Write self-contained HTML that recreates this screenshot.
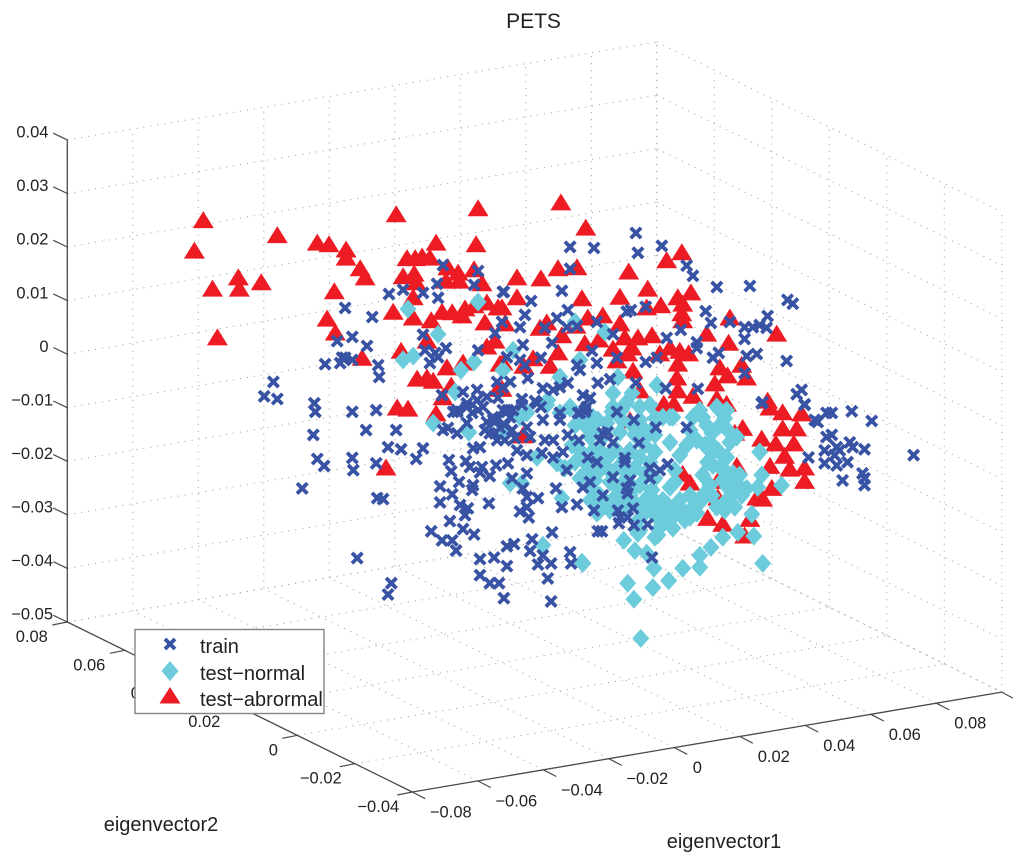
<!DOCTYPE html>
<html lang="en">
<head>
<meta charset="utf-8">
<title>PETS</title>
<style>
html,body{margin:0;padding:0;background:#fff;}
svg{display:block;}
text{font-family:"Liberation Sans",sans-serif;fill:#231f20;}
</style>
</head>
<body>
<svg id="chart" xmlns="http://www.w3.org/2000/svg" width="1024" height="865" viewBox="0 0 1024 865">
  <g id="grid"></g>
  <g id="axes"></g>
  <g id="abnormal"></g>
  <g id="normal"></g>
  <g id="train"></g>
  <text x="533.5" y="28" font-size="21" text-anchor="middle">PETS</text>
  <text x="161" y="831" font-size="20" text-anchor="middle">eigenvector2</text>
  <text x="724" y="848" font-size="20" text-anchor="middle">eigenvector1</text>
  <g>
    <rect x="135" y="629.5" width="189" height="84" fill="#fff" stroke="#808285" stroke-width="1.4"/>
    <g>
      <path d="M165 639L175 649M175 639L165 649" stroke="#3953a4" stroke-width="3.8" fill="none"/>
      <text x="200" y="653" font-size="20">train</text>
    </g>
    <g>
      <polygon points="170,661 178.5,671 170,681 161.5,671" fill="#6cccdc"/>
      <text x="200" y="680" font-size="20">test−normal</text>
    </g>
    <g>
      <polygon points="170,687 180.5,703.5 159.5,703.5" fill="#ed1c24"/>
      <text x="200" y="706" font-size="20">test−abrormal</text>
    </g>
  </g>
</svg>
<script>
// Axis ticks
const ev1Ticks = [-0.08,-0.06,-0.04,-0.02,0,0.02,0.04,0.06,0.08];
const ev1TickLabels = ["−0.08","−0.06","−0.04","−0.02","0","0.02","0.04","0.06","0.08"];
const ev2Ticks = [-0.04,-0.02,0,0.02,0.04,0.06,0.08];
const ev2TickLabels = ["−0.04","−0.02","0","0.02","0.04","0.06","0.08"];
const ev3Ticks = [-0.05,-0.04,-0.03,-0.02,-0.01,0,0.01,0.02,0.03,0.04];
const ev3TickLabels = ["−0.05","−0.04","−0.03","−0.02","−0.01","0","0.01","0.02","0.03","0.04"];

// Marks read from the single published view, as [horizontal, height] in units of 0.001.
// Depth cannot be recovered from one view, so each value is a view-plane reading
// on the eigenvector1 scale (horizontal) and the eigenvector3 scale (height).
const abnormalValues = [[-90.6,25.1],[-93.3,19.4],[-68,22.3],[-87.8,12.3],[-79.9,14.4],[-79.6,12.3],[-72.9,13.5],[-86.3,3.2],[-55.8,20.9],[-52.2,20.6],[-47,19.6],[-47,18.1],[-42.7,16.1],[-41.2,14.4],[-50.6,11.8],[-52.8,6.7],[-50.3,4.1],[-42.1,-0.6],[-31.7,26.2],[-6.7,27.3],[-19.5,20.9],[-7.3,20.6],[-28.4,18],[-25.9,18],[-23.8,18.3],[-21.4,18.1],[-29.6,14.6],[-26.2,15.1],[-25.6,13.5],[-15.9,16.3],[-12.8,15.3],[-16.5,13.8],[-12.5,13.8],[-7.9,15.9],[-5.5,13.3],[-26.5,10.7],[-32.6,8],[-26.5,6.9],[-21,6.4],[-17.7,8],[-14.6,7.9],[-11.6,7.3],[-10.7,8.6],[-7.9,9.2],[-4,9.7],[-0.6,8.8],[-4.6,6],[-22.3,2.6],[-1.5,2.6],[-4,1.5],[-30.2,0.7],[-11.3,-1.5],[-16.2,-2.4],[-25.3,-4.5],[-22.3,-4.3],[-20.4,-4.9],[-14.9,-5.8],[0,-1.7],[-0.6,-6.4],[-17.4,-8],[-31.4,-9.9],[-28.1,-10.1],[-19.5,-11],[-34.8,-21.1],[7,-15.1],
[18.6,28.4],[26.2,23.7],[5.2,14.4],[12.5,14.2],[17.7,16.1],[23.5,16.3],[5.2,10.7],[25,10.5],[36.6,10.8],[39.3,15.5],[50.9,17.6],[55.5,19.1],[45.1,12.3],[49.1,9.2],[44.8,8.8],[54.3,10.7],[58.3,11.6],[55.8,9.5],[55.5,7.7],[55.8,6.4],[70.2,6.9],[84.5,3.9],[63.1,3.9],[69.8,2.2],[73.8,-1.9],[75.3,-4.3],[67.1,-2.4],[69.5,-3.9],[65.6,-5.4],[66.2,-8.2],[69.2,-9.2],[58.9,-7.7],[81.7,-8.6],[82.4,-9.9],[86.3,-10.8],[92.1,-11],[50,-9.2],[53.1,-9.2],[54.3,-6.7],[54,-4.3],[54.3,-1.7],[51.9,1.3],[48.8,0.2],[54.9,0.7],[57.6,0.2],[40.6,-3],[46.4,3.6],[42.1,3.2],[40.3,1.3],[36.6,5.8],[38.1,3.2],[34.5,1.1],[39,0.2],[35.7,-1.1],[31.4,7.3],[26.8,6.9],[30.2,2.8],[25.9,2.1],[18.9,3.6],[17.7,0.4],[15.3,-2.1],[10.1,-0.7],[7.3,-2.1],[12.2,5],[14.3,6],[23.2,5.4],[1.5,5.8],[0.6,8.8],[0.9,-1.5],[0.6,-6.4],[42.7,-6.7],
[74.1,-13.7],[86.3,-13.8],[90.6,-13.8],[79.9,-15.7],[84.2,-16.6],[89.7,-16.6],[86.9,-18.9],[82.4,-20.8],[88.5,-21.3],[93,-21.1],[93,-23.6],[83,-24.9],[78.4,-26.7],[80.2,-26.9],[55.8,-22.3],[58,-23.9],[66.5,-23.6],[72.3,-20.8],[71.7,-14.6],[63.4,-30.5],[68,-31.6],[76.3,-30.7],[74.7,-33.8],[39.7,-12.3],[66.5,-26.7]];

const normalValues = [[43,-53.1],[40.9,-45.8],[39,-42.8],[46.7,-43.6],[51.5,-42.3],[55.8,-40],[61,-39.8],[61,-37.6],[47,-40],[80.2,-39.1],[25.3,-39.1],[64.4,-36.1],[68,-34.2],[72.6,-33.3],[77.5,-34],[76.9,-29.9],[37.8,-34.8],[41.2,-36.7],[44.8,-37.2],[48.2,-33.8],[42.1,-33.5],[24.4,-1.1],[22.9,6],[32,4.1],[36,-4.3],[34.5,-7.3],[40.3,-7.3],[47.9,-5.8],[37.2,-10.5],[42.7,-9.9],[61,-10.5],[66.2,-9.9],[69.2,-10.5],[51.9,-11.8],[18.3,-4.3],[14.6,-8.6],[21.4,-9.9],[6.1,-11.8],[4,0.7],[-29.6,-1.1],[-26.5,-0.4],[-28.1,8.4],[-18.9,3.7],[-6.7,9.7],[-7.9,-1.5],[-11.9,-3],[0.9,-3],[-13.7,-7.1],[-20.4,-12.9],[-9.5,-14.6],[3.1,-24.1],[6.7,-24.1],[18.9,-26.9],[13.1,-35.7],[25,-38.9],[29.6,-29.7],[8.2,-11],[14.3,-9.5],[21.4,-10.1],[18.3,-11],[25,-12.3],[28.4,-11.8],[28.4,-14.2],[24.4,-18],[26.8,-21.7],[28.4,-18],[17.4,-20.4],[19.8,-21.3],[0.9,-14.2],[11.3,-19.3],[28.4,-25.4],
[25.9,-13.3],[29.9,-12.3],[34.2,-10.8],[38.1,-9.5],[45.8,-9.5],[42.7,-12.3],[47.3,-12],[32,-15.1],[36.6,-14.6],[41.2,-15.1],[30.5,-18],[35.1,-17.6],[39.7,-18],[44.2,-17],[49.7,-11.8],[52.8,-11.8],[27.5,-20.8],[32,-20.8],[36.6,-20.8],[41.2,-21.3],[45.8,-20.2],[29,-23.6],[33.6,-23.9],[38.1,-23.6],[42.7,-24.5],[47.3,-23.2],[30.5,-26.4],[35.1,-26.7],[39.7,-26.4],[44.2,-27.3],[33.6,-29.2],[38.1,-29.2],[30.5,-29.2],[51.9,-16.5],[57,-17],[54.9,-18.9],[53.4,-23.9],[46.4,-25.4],[43.6,-27.9],[49.7,-27.3],[53.4,-29.7],[51.9,-31],[58,-29.2],[60.1,-29.7],[47.9,-27.9],[54.9,-27.3],[48.8,-32.4],[47.3,-34.2],[42.7,-32.9],[58.9,-11.8],[61.9,-11.8],[67.1,-10.5],[64.7,-14.8],[64.1,-16.5],[64.7,-18.5],[65,-20.8],[61.9,-22.6],[62.5,-26],[61.6,-27.3],[66.2,-28.6],[69.2,-27.3],[71.7,-28.6],[68,-23.6],[72.3,-24.1],[75.3,-25.1],[71.1,-26],[71.1,-22.3],[70.2,-16.5],[72.3,-15.5],[69.2,-19.3],[66.5,-18],[67.1,-21.1],[79.3,-18.3],[79.9,-22.6],[78.7,-24.9],[86,-24.5],
[22.9,-13.3],[27.5,-15.5],[22,-17],[25.3,-19.8],[22.9,-20.2],[29.9,-22.1],[24.4,-23.2],[27.5,-27.3],[29.6,-27.9],[32.6,-12.9],[37.2,-12.3],[40.3,-13.3],[44.2,-14.2],[47.3,-15.1],[33.6,-18.9],[38.1,-19.4],[42.7,-19.4],[47.3,-18.3],[30.5,-19.4],[34.2,-22.3],[39,-22.3],[44.2,-22.3],[36,-25.1],[40.9,-25.1],[32.6,-27.9],[37.2,-27.9],[41.8,-28.2],[42.7,-30.7],[47.3,-30.1],[50.3,-29.2],[56.4,-31],[52.8,-32.5],[49.4,-30.1],[44.8,-29.2],[58,-30.5],[51.9,-24.9],[58,-26.4],[59.5,-28.2],[51.2,-28.2],[55.8,-29.2],[63.1,-13.3],[62.5,-17],[63.4,-20.2],[64.1,-24.5],[64.7,-26.4],[68.6,-21.7],[73.2,-22.6],[69.5,-24.9],[73.8,-26.4],[68.6,-29.2],[67.1,-13.3],[69.5,-14.2],[68.6,-12],[45.8,-14.6],[53.4,-21.7],[58,-14.2],[60.1,-16.1],[38.7,-9],[34.5,-9.9]];

const trainValues = [[-47.3,8.6],[-39,6.9],[-45.1,3.2],[-49.7,2.4],[-40.6,1.5],[-53.4,-1.9],[-48.2,-0.7],[-47.3,-0.7],[-48.8,-1.7],[-45.1,-1.1],[-37.2,-2.1],[-36.9,-4.3],[-69.2,-5.2],[-72,-7.9],[-68,-8.4],[-56.7,-9.2],[-56.4,-10.8],[-45.1,-10.8],[-37.8,-10.5],[-33.9,11.2],[-29.6,12],[-23.5,11.4],[-19.2,13.1],[-18.9,10.5],[-7.9,12.9],[-6.7,15.5],[-17.4,16.6],[0.9,11.6],[0.6,6],[-1.5,3.9],[-23.5,3.6],[-22.9,0.7],[-19.8,0.2],[-16.5,1.1],[-21.4,-1.7],[-18.9,-0.6],[-6.7,0.7],[-17.7,-7.7],[-11.3,-7.1],[-7,-6.7],[-13.1,-10.5],[-10.1,-9.2],[-7,-8.6],[-4,-8],[-5.2,-9.9],[-0.6,-8.2],[0.9,-10.5],[-0.9,-5.2],[0.9,-6.2],[-8.5,-11],[-14.3,-10.8],[-2.1,-11.8],
[-57,-15.1],[-40.9,-14.2],[-31.7,-14.2],[-34.2,-17.4],[-30.2,-17.8],[-23.5,-17.6],[-25.6,-19.6],[-55.8,-19.6],[-53.7,-20.9],[-45.1,-19.4],[-44.8,-21.7],[-37.8,-20.4],[-60.4,-25.1],[-37.5,-26.9],[-35.7,-27.1],[-43.6,-38.1],[-33.2,-42.8],[-34.2,-44.9],[-15.6,-19.8],[-14.9,-21.9],[-10.4,-20],[-9.2,-21.1],[-5.5,-21.1],[-6.1,-22.1],[-3.1,-22.8],[-1.2,-20.8],[2.4,-20.4],[8.2,-22.3],[3.7,-23.2],[-12.5,-23.9],[-18.3,-24.7],[-8.2,-24.5],[-8.5,-25.4],[-14.6,-26.2],[-18.3,-27.7],[-3.4,-27.9],[-12.2,-28.2],[-9.8,-28.8],[-10.7,-30.1],[-15.3,-31.2],[-11.3,-32.7],[-21,-33.1],[-17.7,-34.8],[-14.6,-34.8],[-13.4,-36.7],[-7.9,-33.7],[-6.1,-38.3],[-1.8,-38],[-6.1,-41.3],[2.1,-39.6],[-3.1,-42.8],[-0.3,-42.8],[1.2,-45.6],[2.1,-35.9],[4.3,-35.5],[9.8,-34.6],[9.2,-36.8],[15.9,-33.3],[13.1,-37.6],[11.6,-39.3],[15.6,-39.1],[14.6,-41.9],[15.6,-46.2],[21.4,-37],[21.7,-39.1],[7,-25.1],[8.2,-26.7],[11.6,-26.9],[6.1,-29.4],[8.8,-30.5],[8.2,-28.6],[17.1,-25.1],[18.9,-28.6],[23.5,-28.1],[28.7,-29.2],[25.3,-24.9],[27.5,-23.9],[29.9,-33.1],[20.4,-21.7],
[-15.9,-13.8],[-13.1,-14.8],[-17.4,-14.2],[-13.1,-10.8],[-10.1,-12.9],[-8.2,-17.6],[-6.1,-17.4],[-10.1,-9.9],[-6.7,-10.5],[-2.1,-12.3],[-3.1,-14.8],[-0.9,-16.1],[1.5,-16.1],[2.4,-10.5],[3.1,-11.8],[6.7,-9.5],[11.3,-9.2],[8.2,-13.7],[9.2,-15.5],[5.2,-18],[8.2,-18.9],[13.1,-12.3],[13.7,-16.1],[16.2,-16.1],[12.8,-18.5],[16.2,-19.3],[19.2,-18.3],[18.3,-12.3],[24.4,-11],[20.7,-15.1],[24.1,-16.1],[26.5,-9.9],[26.8,-19.3],[29.6,-20.2],[-0.9,-12.3],[0,-13.8],[1.5,-13.3],[3.7,-14.2],[-4.6,-14.2],[-4,-12.7],[4.6,-15.7],[-1.5,-14.8],
[41.5,22.6],[42.1,18.9],[49.4,20.2],[57,16.5],[58.9,14.6],[66.2,12.5],[76.3,12.7],[87.8,10.1],[89.4,9.4],[21.4,20],[28.7,19.8],[21.4,15.9],[18.9,11.8],[9.5,9.9],[1.2,11.6],[20.7,8.2],[17.4,6.7],[13.7,4.9],[7.6,7.3],[6.1,5],[23.5,5.2],[20.4,5],[38.7,7.9],[40,8.2],[44.5,8.8],[34.5,3.7],[29.6,6],[15.9,2.1],[7,1.7],[2.1,-0.6],[6.1,-1.1],[7.6,-2.1],[12.5,-0.7],[23.5,-2.1],[24.4,-3],[29.6,-1.7],[28.1,0.6],[35.7,-0.7],[44.5,-1.5],[47.9,-0.7],[50.9,3],[55.2,4.5],[60.1,2.2],[60.1,1.1],[62.8,8],[64.4,5.8],[70.2,6],[74.7,5],[74.7,2.8],[77.2,5],[79.3,5.4],[81.7,7.1],[81.4,4.9],[66.8,0.2],[65,-0.7],[75.3,-0.4],[78.4,0],[87.5,-1.3],[74.7,-3.6],[92.1,-6.7],[90.6,-7.5],[93,-9.5],[80.2,-9],[50.6,-6.4],[41.5,-5.4],[60.4,-6.5],[29.9,-5.4],[33.6,-4.7],[20.7,-5.4],[18.3,-6.2],[16.2,-6.7],[13.1,-6.4],[8.5,-4.5],[3.1,-5.2],[6.7,-8.4],[10.7,-8.8],[12.5,-9.9],[25.3,-7.7],[27.5,-8.2],[25.9,-10.5],[23.8,-11],[35.7,-10.8],[18.3,-11],[2.1,-10.8],[4,-10.5],[99.7,-11],[96.1,-12.3],
[79.9,-9.2],[93,-9.4],[101.3,-11],[107.4,-10.7],[113.5,-12.5],[97,-12.7],[101.3,-15.1],[99.7,-15.5],[106.8,-16.5],[107.7,-17.4],[111.3,-17.8],[99.1,-18],[102.8,-17.4],[102.2,-18.9],[103.7,-18],[94.2,-19.3],[99.1,-20.4],[102.8,-20.8],[106.1,-20.2],[110.7,-22.3],[111.3,-23.2],[111.3,-24.5],[104.6,-23.6],[126.3,-18.9],[25.9,-10.8],[40.9,-12.3],[47.6,-13.7],[57,-13.7],[31.4,-14.8],[32.9,-14.6],[30.5,-16.1],[34.5,-16.5],[42.4,-16.6],[38.1,-19.4],[38.1,-20.2],[51.2,-20.6],[48.8,-21.7],[45.8,-21.3],[45.8,-23.2],[34.5,-23],[39.7,-23.6],[38.7,-25.1],[39,-26],[31.4,-26.4],[36,-29.2],[40.6,-28.8],[36.6,-30.5],[39,-30.5],[36.3,-31.6],[40.9,-32],[45.1,-31.8],[31.1,-33.1],[46.4,-38]];

const SVGNS = "http://www.w3.org/2000/svg";
const ev1Min = -0.08, ev1Max = 0.10, ev2Min = -0.04, ev2Max = 0.08, ev3Min = -0.05, ev3Max = 0.04;

// Axis functions: box projection for the frame, view-plane scales for the marks.
function projectX(v1, v2) { return 412.3 + 3275 * (v1 - ev1Min) - 2875 * (v2 - ev2Min); }
function projectY(v1, v2, v3) {
  const floorY = 792 - 555 * (v1 - ev1Min) - 1417 * (v2 - ev2Min);
  const perspective = 1 - 0.004 * (v1 - ev1Min) / (ev1Max - ev1Min);
  return floorY - 5356 * (v3 - ev3Min) * perspective;
}
function markX(h) { return 500 + 3.275 * h; }
function markY(z) { return 354 - 5.356 * z; }

function addLine(parent, x1, y1, x2, y2, stroke, width, dash) {
  const el = document.createElementNS(SVGNS, "line");
  el.setAttribute("x1", x1.toFixed(1));
  el.setAttribute("y1", y1.toFixed(1));
  el.setAttribute("x2", x2.toFixed(1));
  el.setAttribute("y2", y2.toFixed(1));
  el.setAttribute("stroke", stroke);
  el.setAttribute("stroke-width", width);
  if (dash) el.setAttribute("stroke-dasharray", dash);
  parent.appendChild(el);
  return el;
}
function addGrid(a, b, c, d, e, f) {
  const el = addLine(document.getElementById("grid"), projectX(a, b), projectY(a, b, c), projectX(d, e), projectY(d, e, f), "#aeaeae", 1.1, "1.2 5.8");
  
  
}
function addTick(x1, y1, x2, y2) {
  const el = addLine(document.getElementById("axes"), x1, y1, x2, y2, "#4a4a4a", 1.2);
  
  
}
function addTickLabel(str, x, y, anchor) {
  const el = document.createElementNS(SVGNS, "text");
  el.setAttribute("x", x.toFixed(1));
  el.setAttribute("y", y.toFixed(1));
  el.setAttribute("font-size", "16.5");
  el.setAttribute("text-anchor", anchor);
  
  
  el.textContent = str;
  document.getElementById("axes").appendChild(el);
}

// Grid lines: floor, back-left wall, right wall
const ev1GridStops = ev1Ticks.concat([ev1Max]);
ev1GridStops.forEach(function (v) {
  addGrid(v, ev2Min, ev3Min, v, ev2Max, ev3Min);
  addGrid(v, ev2Max, ev3Min, v, ev2Max, ev3Max);
});
ev2Ticks.forEach(function (v) {
  addGrid(ev1Min, v, ev3Min, ev1Max, v, ev3Min);
  addGrid(ev1Max, v, ev3Min, ev1Max, v, ev3Max);
});
ev3Ticks.forEach(function (v) {
  addGrid(ev1Min, ev2Max, v, ev1Max, ev2Max, v);
  addGrid(ev1Max, ev2Max, v, ev1Max, ev2Min, v);
});

// Axis lines
const axesGroup = document.getElementById("axes");
const axisZ = addLine(axesGroup, projectX(ev1Min, ev2Max), projectY(ev1Min, ev2Max, ev3Max), projectX(ev1Min, ev2Max), projectY(ev1Min, ev2Max, ev3Min), "#4a4a4a", 1.3);


const axisY = addLine(axesGroup, projectX(ev1Min, ev2Max), projectY(ev1Min, ev2Max, ev3Min), projectX(ev1Min, ev2Min), projectY(ev1Min, ev2Min, ev3Min), "#4a4a4a", 1.3);


const axisX = addLine(axesGroup, projectX(ev1Min, ev2Min), projectY(ev1Min, ev2Min, ev3Min), projectX(ev1Max, ev2Min), projectY(ev1Max, ev2Min, ev3Min), "#4a4a4a", 1.3);



// Ticks and labels
ev3Ticks.forEach(function (v, i) {
  const x = projectX(ev1Min, ev2Max), y = projectY(ev1Min, ev2Max, v);
  addTick(x, y, x - 14, y - 6.7);
  addTickLabel(ev3TickLabels[i], v < 0 ? 53 : 48.5, y - 2.3, "end");
});
ev2Ticks.forEach(function (v, i) {
  const x = projectX(ev1Min, v), y = projectY(ev1Min, v, ev3Min);
  addTick(x, y, x - 15, y + 3);
  const dx = ev2TickLabels[i] === "0" ? -24 : (v < 0 ? -34 : -35.5);
  addTickLabel(ev2TickLabels[i], x + dx, y + 20, "middle");
});
ev1Ticks.forEach(function (v, i) {
  const x = projectX(v, ev2Min), y = projectY(v, ev2Min, ev3Min);
  addTick(x, y, x + 13, y + 6.7);
  const dx = ev1TickLabels[i] === "0" ? 23 : (v < 0 ? 38.5 : 34);
  addTickLabel(ev1TickLabels[i], x + dx, y + 25.5, "middle");
});
const endX = projectX(ev1Max, ev2Min), endY = projectY(ev1Max, ev2Min, ev3Min);
addTick(endX, endY, endX + 11, endY + 6);

// Marks
abnormalValues.forEach(function (p) {
  const x = markX(p[0]), y = markY(p[1]);
  const el = document.createElementNS(SVGNS, "polygon");
  el.setAttribute("points", x.toFixed(1) + "," + (y - 8.5).toFixed(1) + " " + (x + 10.5).toFixed(1) + "," + (y + 8.5).toFixed(1) + " " + (x - 10.5).toFixed(1) + "," + (y + 8.5).toFixed(1));
  el.setAttribute("fill", "#ed1c24");
  
  
  document.getElementById("abnormal").appendChild(el);
});
normalValues.forEach(function (p) {
  const x = markX(p[0]), y = markY(p[1]);
  const el = document.createElementNS(SVGNS, "polygon");
  el.setAttribute("points", x.toFixed(1) + "," + (y - 9.5).toFixed(1) + " " + (x + 8.5).toFixed(1) + "," + y.toFixed(1) + " " + x.toFixed(1) + "," + (y + 9.5).toFixed(1) + " " + (x - 8.5).toFixed(1) + "," + y.toFixed(1));
  el.setAttribute("fill", "#6cccdc");
  
  
  document.getElementById("normal").appendChild(el);
});
trainValues.forEach(function (p) {
  const x = markX(p[0]), y = markY(p[1]), r = 5.2;
  const el = document.createElementNS(SVGNS, "path");
  el.setAttribute("d", "M" + (x - r).toFixed(1) + " " + (y - r).toFixed(1) + "L" + (x + r).toFixed(1) + " " + (y + r).toFixed(1) + "M" + (x + r).toFixed(1) + " " + (y - r).toFixed(1) + "L" + (x - r).toFixed(1) + " " + (y + r).toFixed(1));
  el.setAttribute("stroke", "#3953a4");
  el.setAttribute("stroke-width", "3.8");
  el.setAttribute("fill", "none");
  
  
  document.getElementById("train").appendChild(el);
});
</script>
</body>
</html>
